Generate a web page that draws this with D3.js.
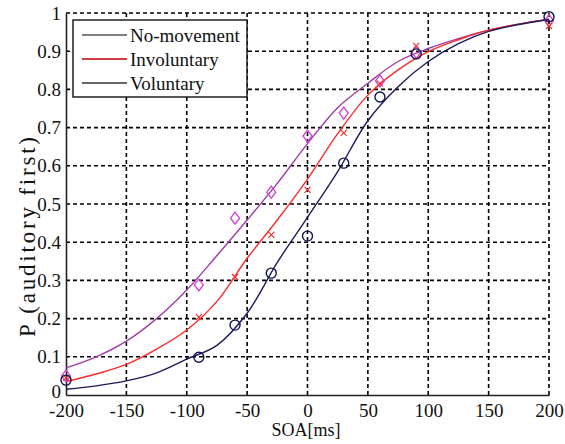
<!DOCTYPE html>
<html>
<head>
<meta charset="utf-8">
<script src="https://cdn.jsdelivr.net/npm/d3@7"></script>
<style>
  body { margin: 0; background: #fff; }
  svg text { font-family: "Liberation Serif", "Times New Roman", serif; fill: #111; }
</style>
</head>
<body>
<svg id="chart" width="565" height="444"></svg>
<script>
// --- data ---
const soa = [-200, -90, -60, -30, 0, 30, 60, 90, 200];
const noMovePts = [0.05, 0.288, 0.463, 0.531, 0.678, 0.738, 0.822, 0.897, 0.98];
const involPts = [0.045, 0.204, 0.309, 0.419, 0.537, 0.686, 0.815, 0.914, 0.966];
const volPts = [0.039, 0.099, 0.183, 0.319, 0.416, 0.607, 0.78, 0.893, 0.99];

// fitted curves, sampled every 25 ms
const curveX = [-200, -175, -150, -125, -100, -75, -50, -25, 0, 25, 50, 75, 100, 125, 150, 175, 200];
const noMoveFit = [0.071, 0.10, 0.141, 0.20, 0.275, 0.365, 0.458, 0.554, 0.658, 0.752, 0.816, 0.873, 0.907, 0.933, 0.955, 0.971, 0.984];
const involFit = [0.035, 0.055, 0.08, 0.12, 0.17, 0.245, 0.358, 0.458, 0.565, 0.684, 0.785, 0.851, 0.899, 0.93, 0.955, 0.971, 0.984];
const volFit = [0.015, 0.024, 0.037, 0.058, 0.094, 0.13, 0.214, 0.347, 0.465, 0.585, 0.718, 0.807, 0.873, 0.92, 0.952, 0.97, 0.983];

const xTicks = [-200, -150, -100, -50, 0, 50, 100, 150, 200];
const yTicks = [0, 0.1, 0.2, 0.3, 0.4, 0.5, 0.6, 0.7, 0.8, 0.9, 1];
const legendNames = ["No-movement", "Involuntary", "Voluntary"];

const svg = d3.select("#chart");
const mLeft = 66, mRight = 549, mTop = 13, mBottom = 395;

const x = d3.scaleLinear().domain([-200, 200]).range([mLeft, mRight]);
const y = d3.scaleLinear().domain([0, 1]).range([mBottom, mTop]);

// grid
const grid = svg.append("g")
  .attr("stroke", "#000").attr("stroke-width", 1.6).attr("stroke-dasharray", "4,3");
grid.selectAll(".gx").data(xTicks.slice(1, -1)).join("line")
  .attr("x1", d => x(d)).attr("x2", d => x(d)).attr("y1", mTop).attr("y2", mBottom);
grid.selectAll(".gy").data(yTicks.slice(1, -1)).join("line")
  .attr("y1", d => y(d)).attr("y2", d => y(d)).attr("x1", mLeft).attr("x2", mRight);
// top and right edges are dashed too
grid.append("line").attr("x1", mLeft).attr("x2", mRight).attr("y1", mTop).attr("y2", mTop);
grid.append("line").attr("x1", mRight).attr("x2", mRight).attr("y1", mTop).attr("y2", mBottom);

// axes (solid left + bottom), plain hyphen for negatives
const xAxis = d3.axisBottom(x).tickValues(xTicks).tickSize(0).tickPadding(9).tickFormat(d => String(d));
const yAxis = d3.axisLeft(y).tickValues(yTicks).tickSize(0).tickPadding(5).tickFormat(d => String(d));

const gx = svg.append("g").attr("transform", `translate(0,${mBottom})`).call(xAxis);
const gy = svg.append("g").attr("transform", `translate(${mLeft},0)`).call(yAxis);
[gx, gy].forEach(g => {
  g.select(".domain").attr("stroke", "#222").attr("stroke-width", 1.6);
  g.selectAll("text").attr("font-size", 19).attr("font-family", "Liberation Serif").attr("fill", "#111");
});
// the "0" on the y axis sits a little higher, as in the figure
gy.selectAll(".tick text").filter(d => d === 0).attr("dy", "0.12em");

// fitted curves
const line = d3.line().x(d => x(d[0])).y(d => y(d[1])).curve(d3.curveCatmullRom);
const series = [
  { fit: noMoveFit, pts: noMovePts, color: "#a03ca8", mk: "#d040d0", legend: "#555", shape: "diamond" },
  { fit: involFit, pts: involPts, color: "#ff2a2a", mk: "#f03030", legend: "#c00000", shape: "x" },
  { fit: volFit, pts: volPts, color: "#1c1c5c", mk: "#141450", legend: "#333", shape: "circle" }
];

series.forEach(s => {
  svg.append("path")
    .datum(d3.zip(curveX, s.fit))
    .attr("fill", "none").attr("stroke", s.color).attr("stroke-width", 1.4)
    .attr("d", line);
});

// markers
series.forEach(s => {
  const g = svg.append("g");
  const data = d3.zip(soa, s.pts);
  if (s.shape === "circle") {
    g.selectAll("circle").data(data).join("circle")
      .attr("cx", d => x(d[0])).attr("cy", d => y(d[1])).attr("r", 5)
      .attr("fill", "none").attr("stroke", s.mk).attr("stroke-width", 1.4);
  } else if (s.shape === "diamond") {
    g.selectAll("path").data(data).join("path")
      .attr("d", d => {
        const cx = x(d[0]), cy = y(d[1]);
        return `M${cx},${cy - 6}L${cx + 4.5},${cy}L${cx},${cy + 6}L${cx - 4.5},${cy}Z`;
      })
      .attr("fill", "none").attr("stroke", s.mk).attr("stroke-width", 1.3);
  } else {
    g.selectAll("path").data(data).join("path")
      .attr("d", d => {
        const cx = x(d[0]), cy = y(d[1]);
        return `M${cx - 3},${cy - 3}L${cx + 3},${cy + 3}M${cx - 3},${cy + 3}L${cx + 3},${cy - 3}`;
      })
      .attr("fill", "none").attr("stroke", s.mk).attr("stroke-width", 1.2);
  }
});

// axis labels
svg.append("text").attr("x", 306).attr("y", 436).attr("text-anchor", "middle")
  .attr("font-size", 18).text("SOA[ms]");
svg.append("text").attr("transform", "translate(27,237) rotate(-90)")
  .attr("text-anchor", "middle").attr("dy", "0.35em").attr("font-size", 23)
  .attr("textLength", 200).attr("lengthAdjust", "spacing")
  .text("P (auditory first)");

// legend
const lg = svg.append("g");
lg.append("rect").attr("x", 73).attr("y", 20).attr("width", 174).attr("height", 77)
  .attr("fill", "#fff").attr("stroke", "#111").attr("stroke-width", 1.4);
legendNames.forEach((name, i) => {
  const ly = 35 + i * 24;
  lg.append("line").attr("x1", 82).attr("x2", 127).attr("y1", ly).attr("y2", ly)
    .attr("stroke", series[i].legend).attr("stroke-width", 1.4);
  lg.append("text").attr("x", 130).attr("y", ly).attr("dy", "0.35em")
    .attr("font-size", 19).text(name);
});
</script>
</body>
</html>
